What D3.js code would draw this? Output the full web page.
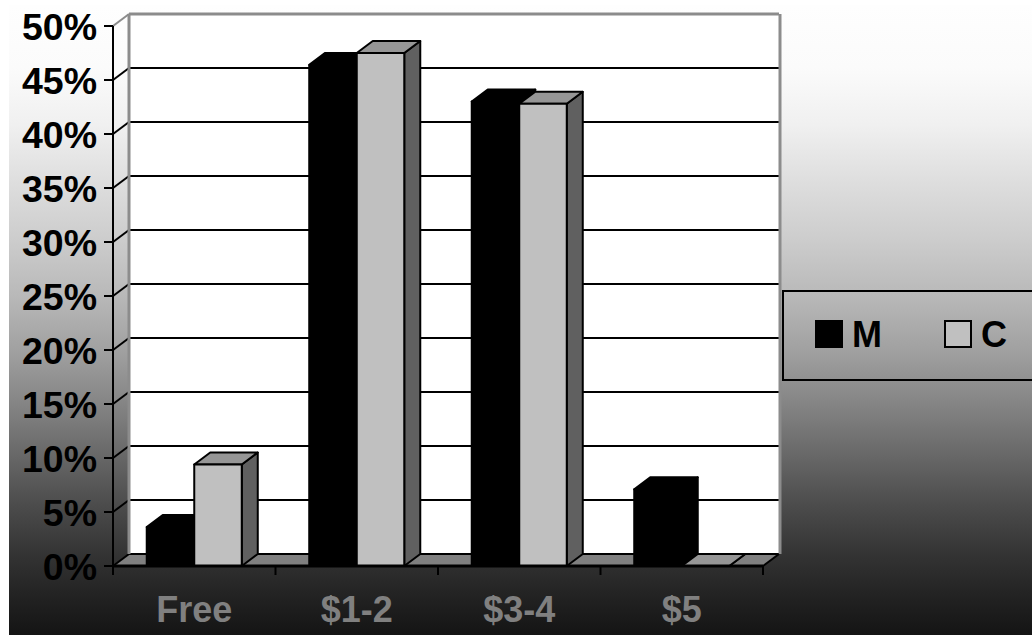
<!DOCTYPE html>
<html>
<head>
<meta charset="utf-8">
<script src="https://cdn.jsdelivr.net/npm/d3@7"></script>
<style>
  html, body { margin: 0; padding: 0; background: #ffffff; }
  svg { display: block; font-family: "Liberation Sans", Arial, sans-serif; font-weight: bold; }
</style>
</head>
<body>
<svg id="chart" width="1032" height="635"></svg>
<script>
// Share of answers per price band, for the two groups
const categories = ["Free", "$1-2", "$3-4", "$5"];
const seriesNames = ["M", "C"];
const mValues = [0.036, 0.464, 0.430, 0.071];
const cValues = [0.094, 0.475, 0.428, 0.0];
const yTicks = [0, 0.05, 0.10, 0.15, 0.20, 0.25, 0.30, 0.35, 0.40, 0.45, 0.50];
const yTickLabels = ["0%", "5%", "10%", "15%", "20%", "25%", "30%", "35%", "40%", "45%", "50%"];

const svg = d3.select("#chart");

// Depth of the 3-D box (offset from front plane to back wall)
const DX = 16, DY = -12;

// Front-plane scales
const x0 = d3.scaleBand().domain(categories).range([113, 763]);
const x1 = d3.scaleBand().domain(seriesNames).range([0, x0.bandwidth()]).paddingOuter(0.71);
const y = d3.scaleLinear().domain([0, 0.5]).range([566, 26]);

// Chart-area background: white fading to black
const defs = svg.append("defs");
const grad = defs.append("linearGradient")
  .attr("id", "bg").attr("gradientUnits", "userSpaceOnUse")
  .attr("x1", 0).attr("y1", 5).attr("x2", 0).attr("y2", 635);
[[0, "#fefefe"], [0.10, "#fbfbfb"], [0.19, "#f0f0f0"], [0.28, "#dedede"], [0.37, "#cdcdcd"],
 [0.46, "#b9b9b9"], [0.55, "#a0a0a0"], [0.64, "#828282"], [0.72, "#666666"], [0.79, "#4d4d4d"],
 [0.87, "#343434"], [0.94, "#222222"], [1, "#141414"]]
  .forEach(([o, c]) => grad.append("stop").attr("offset", o).attr("stop-color", c));

svg.append("rect").attr("x", 9).attr("y", 5).attr("width", 1040).attr("height", 650).attr("fill", "url(#bg)");

const x0Left = x0.range()[0], x0Right = x0.range()[1];

// Back wall
svg.append("rect")
  .attr("x", x0Left + DX).attr("y", y(0.5) + DY)
  .attr("width", x0Right - x0Left).attr("height", y(0) - y(0.5))
  .attr("fill", "#ffffff");

// Floor
svg.append("polygon")
  .attr("points", [[x0Left, y(0)], [x0Right, y(0)], [x0Right + DX, y(0) + DY], [x0Left + DX, y(0) + DY]].join(" "))
  .attr("fill", "#808080");

// Gridlines on the back wall with connectors to the front axis
const grid = svg.append("g");
yTicks.forEach(t => {
  const isTop = t === 0.5;
  const col = isTop ? "#8c8c8c" : "#000000";
  grid.append("line")
    .attr("x1", x0Left + DX).attr("x2", x0Right + DX)
    .attr("y1", y(t) + DY).attr("y2", y(t) + DY)
    .attr("stroke", col).attr("stroke-width", isTop ? 3 : 2);
  grid.append("line")
    .attr("x1", x0Left).attr("y1", y(t))
    .attr("x2", x0Left + DX).attr("y2", y(t) + DY)
    .attr("stroke", col).attr("stroke-width", 2);
});

// Wall side edges
svg.append("line").attr("x1", x0Left + DX).attr("x2", x0Left + DX)
  .attr("y1", y(0.5) + DY).attr("y2", y(0) + DY).attr("stroke", "#8c8c8c").attr("stroke-width", 3);
svg.append("line").attr("x1", x0Right + DX + 1).attr("x2", x0Right + DX + 1)
  .attr("y1", y(0.5) + DY).attr("y2", y(0) + DY).attr("stroke", "#8c8c8c").attr("stroke-width", 3);
svg.append("line").attr("x1", x0Right).attr("y1", y(0))
  .attr("x2", x0Right + DX).attr("y2", y(0) + DY).attr("stroke", "#000").attr("stroke-width", 2);

// 3-D columns
const styles = {
  M: { front: "#000000", top: "#000000", side: "#000000" },
  C: { front: "#c0c0c0", top: "#969696", side: "#606060" }
};
const rows = categories.map((c, i) => ({ cat: c, M: mValues[i], C: cValues[i] }));
const bars = svg.append("g");
rows.forEach(r => {
  seriesNames.forEach(s => {
    const v = r[s];
    const xl = x0(r.cat) + x1(s);
    const xr = xl + x1.bandwidth();
    const yt = y(v), yb = y(0);
    const st = styles[s];
    const g = bars.append("g").attr("stroke", "#000").attr("stroke-width", 2).attr("stroke-linejoin", "round");
    g.append("polygon")
      .attr("points", [[xr, yt], [xr + DX, yt + DY], [xr + DX, yb + DY], [xr, yb]].join(" "))
      .attr("fill", st.side);
    g.append("polygon")
      .attr("points", [[xl, yt], [xr, yt], [xr + DX, yt + DY], [xl + DX, yt + DY]].join(" "))
      .attr("fill", st.top);
    g.append("rect")
      .attr("x", xl).attr("y", yt).attr("width", xr - xl).attr("height", yb - yt)
      .attr("fill", st.front);
  });
});

// Front value axis
const yAxis = svg.append("g");
yAxis.append("line").attr("x1", x0Left).attr("x2", x0Left)
  .attr("y1", y(0.5)).attr("y2", y(0) + 1).attr("stroke", "#000").attr("stroke-width", 2);
yTicks.forEach((t, i) => {
  yAxis.append("line").attr("x1", x0Left - 9).attr("x2", x0Left)
    .attr("y1", y(t)).attr("y2", y(t)).attr("stroke", "#000").attr("stroke-width", 2);
  yAxis.append("text")
    .attr("x", 97).attr("y", y(t) + 13.5)
    .attr("text-anchor", "end").attr("font-size", 37.5).attr("fill", "#000")
    .text(yTickLabels[i]);
});

// Front category axis
const xAxis = svg.append("g");
xAxis.append("line").attr("x1", x0Left).attr("x2", x0Right)
  .attr("y1", y(0)).attr("y2", y(0)).attr("stroke", "#000").attr("stroke-width", 3);
[...categories.map(c => x0(c)), x0Right].forEach(xp => {
  xAxis.append("line").attr("x1", xp).attr("x2", xp)
    .attr("y1", y(0)).attr("y2", y(0) + 9).attr("stroke", "#000").attr("stroke-width", 2);
});
categories.forEach(c => {
  xAxis.append("text")
    .attr("x", x0(c) + x0.bandwidth() / 2).attr("y", 622)
    .attr("text-anchor", "middle").attr("font-size", 36).attr("fill", "#808080")
    .text(c);
});

// Legend
const legend = svg.append("g");
legend.append("rect").attr("x", 783).attr("y", 291).attr("width", 270).attr("height", 89)
  .attr("fill", "none").attr("stroke", "#000").attr("stroke-width", 2);
const legendX = [816, 945];
seriesNames.forEach((s, i) => {
  legend.append("rect").attr("x", legendX[i]).attr("y", 321).attr("width", 26).attr("height", 26)
    .attr("fill", styles[s].front).attr("stroke", "#000").attr("stroke-width", 2);
  legend.append("text").attr("x", legendX[i] + 36).attr("y", 347)
    .attr("font-size", 36).attr("fill", "#000").text(s);
});
</script>
</body>
</html>
